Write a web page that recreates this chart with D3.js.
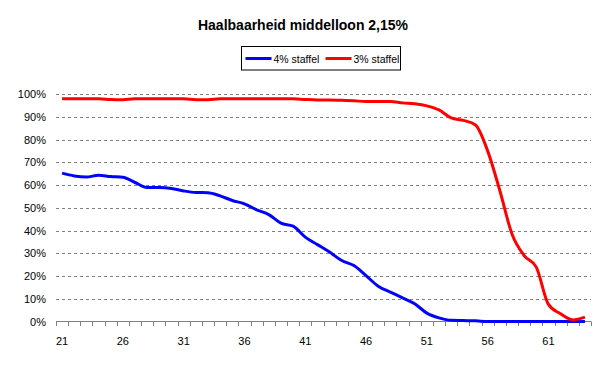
<!DOCTYPE html>
<html><head><meta charset="utf-8">
<script src="https://cdn.jsdelivr.net/npm/d3@7/dist/d3.min.js"></script>
<style>body{margin:0;background:#fff}svg{display:block;font-family:Arial,"Liberation Sans",sans-serif}</style>
</head><body>
<script>
const title = "Haalbaarheid middelloon 2,15%";
const ages = d3.range(21, 65);
const seriesNames = ["4% staffel", "3% staffel"];
const seriesColors = ["#0000FF", "#FF0000"];
const staffel4 = [65.2,64.0,63.5,64.3,63.7,63.4,61.1,58.9,58.9,58.5,57.4,56.7,56.6,55.2,53.2,51.7,49.1,47.0,43.2,41.9,37.1,
  33.8,30.5,26.8,24.6,20.2,15.5,12.9,10.4,7.8,3.7,1.6,0.5,0.4,0.3,0,0,0,0,0,0,0,0,0];
const staffel3 = [97.9,97.9,97.9,97.9,97.6,97.5,97.9,97.9,97.9,97.9,97.9,97.5,97.5,97.9,97.9,97.9,97.9,97.9,97.9,97.9,97.6,
  97.4,97.4,97.2,97.0,96.7,96.7,96.7,96.1,95.7,94.8,93.0,89.5,88.4,86.4,75.0,57.6,38.5,29.0,23.9,7.5,3.4,0.7,1.9];
const yTicks = d3.range(0, 101, 10);
const xLabels = [21,26,31,36,41,46,51,56,61];

const W = 607, H = 368;
const svg = d3.select("body").append("svg").attr("width", W).attr("height", H);
const x = d3.scaleBand().domain(ages).range([56, 591]).padding(0);
const y = d3.scaleLinear().domain([0, 100]).range([321.5, 94]);
const cx = a => x(a) + x.bandwidth() / 2;

// gridlines
svg.append("g").selectAll("line").data(yTicks.filter(t => t > 0)).join("line")
  .attr("x1", 56).attr("x2", 591)
  .attr("y1", d => Math.round(y(d)) + 0.5).attr("y2", d => Math.round(y(d)) + 0.5)
  .attr("stroke", "#808080").attr("stroke-dasharray", "3,3");

// y labels
svg.append("g").selectAll("text").data(yTicks).join("text")
  .attr("x", 46).attr("y", d => y(d) + 4)
  .attr("text-anchor", "end").attr("font-size", 11).attr("fill", "#000")
  .text(d => d + "%");

// x axis
const ax = svg.append("g");
ax.append("line").attr("x1", 56).attr("x2", 591).attr("y1", 321.5).attr("y2", 321.5).attr("stroke", "#808080");
const edges = ages.map(a => x(a)).concat([x(ages[ages.length - 1]) + x.bandwidth()]);
ax.selectAll("line.t").data(edges).join("line").attr("class", "t")
  .attr("x1", d => Math.round(d) + 0.5).attr("x2", d => Math.round(d) + 0.5)
  .attr("y1", 321.5).attr("y2", 326).attr("stroke", "#808080");
ax.selectAll("text").data(xLabels).join("text")
  .attr("x", d => cx(d)).attr("y", 345)
  .attr("text-anchor", "middle").attr("font-size", 11).attr("fill", "#000")
  .text(d => d);

// lines
const line = d3.line().x((d, i) => cx(ages[i])).y(d => y(d)).curve(d3.curveMonotoneX);
[staffel4, staffel3].forEach((s, k) => {
  svg.append("path").datum(s).attr("d", line)
    .attr("fill", "none").attr("stroke", seriesColors[k]).attr("stroke-width", 3)
    .attr("stroke-linejoin", "round");
});

// title
svg.append("text").attr("x", 303).attr("y", 29.5).attr("text-anchor", "middle")
  .attr("font-size", 14).attr("font-weight", "bold").text(title);

// legend
const lg = svg.append("g");
lg.append("rect").attr("x", 241.5).attr("y", 46.5).attr("width", 159).attr("height", 23.5)
  .attr("fill", "#fff").attr("stroke", "#000");
const lx = [245.5, 325.5];
seriesNames.forEach((n, k) => {
  lg.append("line").attr("x1", lx[k]).attr("x2", lx[k] + 26).attr("y1", 58.5).attr("y2", 58.5)
    .attr("stroke", seriesColors[k]).attr("stroke-width", 3);
  lg.append("text").attr("x", lx[k] + 28).attr("y", 62.5).attr("font-size", 10.5).text(n);
});
</script>
</body></html>
